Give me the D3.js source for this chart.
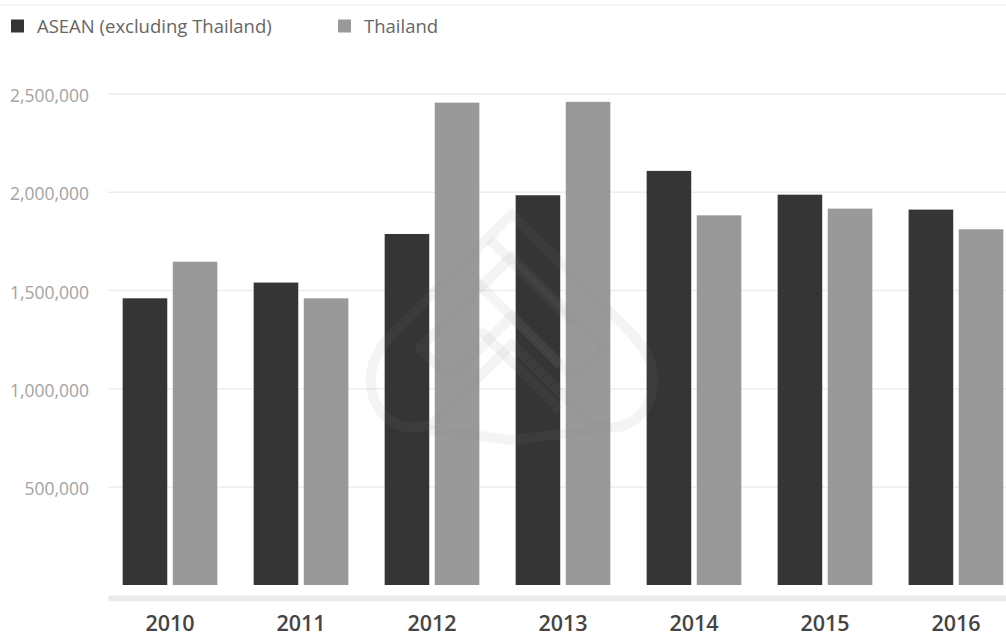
<!DOCTYPE html>
<html>
<head>
<meta charset="utf-8">
<script src="https://cdn.jsdelivr.net/npm/d3@7"></script>
<style>
  body { margin: 0; background: #fff; }
  svg { display: block; font-family: "Open Sans", sans-serif; }
</style>
</head>
<body>
<div id="chart"></div>
<script>
const years = ['2010', '2011', '2012', '2013', '2014', '2015', '2016'];
const seriesNames = ['ASEAN (excluding Thailand)', 'Thailand'];
const aseanValues = [1458000, 1538000, 1785000, 1982000, 2106000, 1985000, 1909000];
const thailandValues = [1644000, 1458000, 2453000, 2457000, 1880000, 1914000, 1809000];
const yTickValues = [500000, 1000000, 1500000, 2000000, 2500000];

const colors = { 'ASEAN (excluding Thailand)': '#353535', 'Thailand': '#999999' };
const fontFamily = '"Open Sans", sans-serif';

const dimensions = { width: 1006, height: 637 };

const rows = years.map((y, i) => ({
    year: y,
    values: [
        { key: seriesNames[0], value: aseanValues[i] },
        { key: seriesNames[1], value: thailandValues[i] }
    ]
}));

const svg = d3.select('#chart')
    .append('svg')
    .attr('width', dimensions.width)
    .attr('height', dimensions.height);

// faint top border
svg.append('line')
    .attr('x1', 0).attr('x2', dimensions.width)
    .attr('y1', 5).attr('y2', 5)
    .attr('stroke', '#f6f6f6')
    .attr('stroke-width', 2);

const x0 = d3.scaleBand()
    .domain(years)
    .range([108, 1018])
    .paddingInner(0.277)
    .paddingOuter(0.112);

const x1 = d3.scaleBand()
    .domain(seriesNames)
    .range([0, x0.bandwidth()])
    .paddingInner(0.11);

const y = d3.scaleLinear()
    .domain([0, 2500000])
    .range([585, 93.4]);

// y axis with gridlines
const yAxis = svg.append('g')
    .attr('transform', 'translate(108,0)')
    .call(d3.axisLeft(y)
        .tickValues(yTickValues)
        .tickSize(-(dimensions.width - 108))
        .tickPadding(19)
        .tickFormat(d3.format(',')))
    .attr('font-family', fontFamily);

yAxis.select('.domain').remove();
yAxis.selectAll('.tick line')
    .attr('stroke', '#eeeeee')
    .attr('stroke-width', 1.5);
yAxis.selectAll('.tick text')
    .attr('fill', '#a3a3a3')
    .attr('font-size', '17.5px')
    .attr('dy', '0.47em');

// bars
const groups = svg.append('g')
    .selectAll('g')
    .data(rows)
    .enter()
        .append('g')
        .attr('transform', d => `translate(${x0(d.year)},0)`);

groups.selectAll('rect')
    .data(d => d.values)
    .enter()
        .append('rect')
        .attr('x', d => x1(d.key))
        .attr('y', d => y(d.value))
        .attr('width', x1.bandwidth())
        .attr('height', d => y(0) - y(d.value))
        .attr('fill', d => colors[d.key]);

// x axis: thick light band + year labels
const xAxis = svg.append('g')
    .attr('transform', 'translate(0,598)')
    .call(d3.axisBottom(x0).tickSize(0).tickSizeOuter(0))
    .attr('font-family', fontFamily);

xAxis.select('.domain')
    .attr('stroke', '#ebebeb')
    .attr('stroke-width', 6);
xAxis.selectAll('.tick text')
    .attr('y', 32.5)
    .attr('dy', 0)
    .attr('fill', '#444')
    .attr('font-size', '21.5px')
    .attr('font-weight', 600);

// watermark
const wm = svg.append('g')
    .attr('fill', 'none')
    .attr('stroke', '#8a8a8a')
    .attr('stroke-opacity', 0.09)
    .attr('stroke-width', 10)
    .attr('stroke-linejoin', 'round');

wm.append('path')
    .attr('d', 'M512,214 L392,334 Q360,368 376,404 Q394,436 432,424 L512,344 L592,424 Q630,436 648,404 Q664,368 632,334 Z');
wm.append('path')
    .attr('d', 'M512,256 L420,348 L450,378 L512,316 L574,378 L604,348 Z');
wm.append('path')
    .attr('d', 'M430,430 L512,440 L594,430');
wm.append('path')
    .attr('d', 'M490,240 L575,325 M475,280 L560,365 M480,330 L560,410');

// legend
const legend = svg.append('g')
    .selectAll('g')
    .data(seriesNames)
    .enter()
        .append('g')
        .attr('transform', (d, i) => `translate(${i ? 338 : 11},19.5)`);

legend.append('rect')
    .attr('width', 13)
    .attr('height', 13)
    .attr('fill', d => colors[d]);

legend.append('text')
    .attr('x', 26)
    .attr('y', 13.5)
    .attr('fill', '#666')
    .attr('font-size', '18.5px')
    .text(d => d);
</script>
</body>
</html>
